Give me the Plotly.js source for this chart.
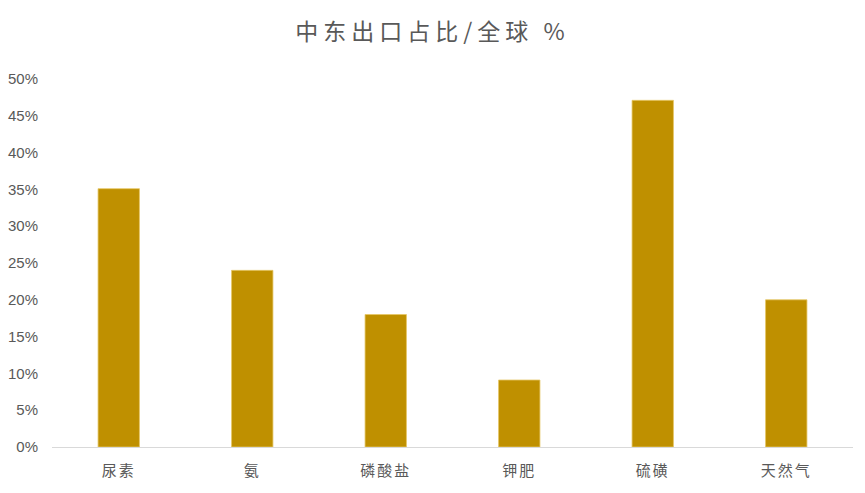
<!DOCTYPE html>
<html>
<head>
<meta charset="utf-8">
<script src="https://cdn.plot.ly/plotly-3.0.1.min.js"></script>
<style>
  html, body { margin: 0; padding: 0; background: #fff; }
  #chart { width: 865px; height: 493px; }
  .gtitle { letter-spacing: 5px; }
  .xtick text { letter-spacing: 2px; }
</style>
</head>
<body>
<div id="chart"></div>
<script>
// data
const categories = ['尿素', '氨', '磷酸盐', '钾肥', '硫磺', '天然气'];
const shares = [0.351, 0.240, 0.180, 0.091, 0.471, 0.200];
const yTickVals = [0, 0.05, 0.10, 0.15, 0.20, 0.25, 0.30, 0.35, 0.40, 0.45, 0.50];

const GOLD = '#bf9000';
const TEXT = '#595959';

const trace = {
  type: 'bar',
  x: categories,
  y: shares,
  width: 0.31,
  marker: { color: GOLD, line: { color: '#e6c766', width: 0.8 } },
  hoverinfo: 'x+y'
};

const layout = {
  width: 865,
  height: 493,
  margin: { l: 52, r: 12, t: 79, b: 46 },
  paper_bgcolor: '#fff',
  plot_bgcolor: '#fff',
  showlegend: false,
  font: { family: 'Liberation Sans, Arial, sans-serif', color: TEXT, size: 15 },
  title: {
    text: '中东出口占比/全球 %',
    x: 0.5,
    xanchor: 'center',
    y: 0.935,
    yanchor: 'middle',
    font: { family: 'Noto Sans CJK SC, sans-serif', size: 23, color: TEXT }
  },
  xaxis: {
    showgrid: false,
    showline: true,
    linecolor: '#d9d9d9',
    linewidth: 1,
    ticks: '',
    ticklabelstandoff: 10,
    tickfont: { family: 'Noto Sans CJK SC, sans-serif', size: 15, color: TEXT },
    fixedrange: true
  },
  yaxis: {
    range: [0, 0.5],
    tickvals: yTickVals,
    tickformat: '.0%',
    showgrid: false,
    zeroline: false,
    showline: false,
    ticks: '',
    ticklabelstandoff: 13,
    tickfont: { size: 15, color: TEXT },
    fixedrange: true
  },
  bargap: 0.69
};

Plotly.newPlot('chart', [trace], layout, { displayModeBar: false, staticPlot: true });
</script>
</body>
</html>
